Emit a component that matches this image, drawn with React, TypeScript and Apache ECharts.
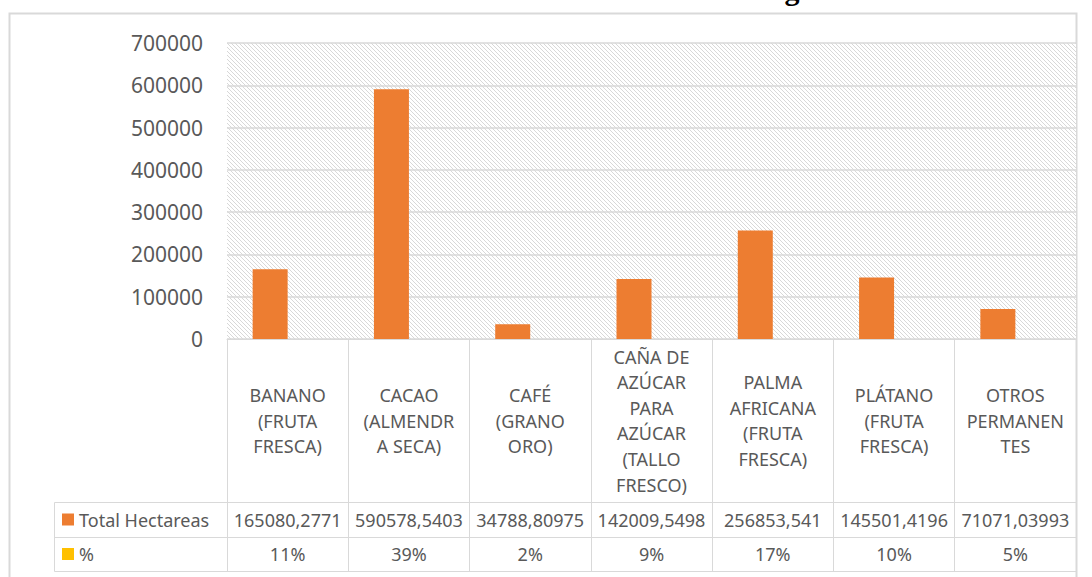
import React, { useEffect, useRef } from "react";
import * as echarts from "echarts";

const TITLE = "Gráfico 3. Distribución de la Producción Agrícola";
const categories = [
  "BANANO\n(FRUTA\nFRESCA)",
  "CACAO\n(ALMENDR\nA SECA)",
  "CAFÉ\n(GRANO\nORO)",
  "CAÑA DE\nAZÚCAR\nPARA\nAZÚCAR\n(TALLO\nFRESCO)",
  "PALMA\nAFRICANA\n(FRUTA\nFRESCA)",
  "PLÁTANO\n(FRUTA\nFRESCA)",
  "OTROS\nPERMANEN\nTES",
];
const totalHectareas = [
  165080.2771, 590578.5403, 34788.80975, 142009.5498, 256853.541, 145501.4196, 71071.03993,
];
const percentValues = [11, 39, 2, 9, 17, 10, 5];
const yTicks = { min: 0, max: 700000, interval: 100000 };
const seriesNames = ["Total Hectareas", "%"];

const FONT = "'Noto Sans', sans-serif";
const GRID_COLOR = "#d9d9d9";
const TEXT_COLOR = "#595959";

const hatchSvg =
  "<svg xmlns='http://www.w3.org/2000/svg' width='4' height='4'>" +
  "<rect width='4' height='4' fill='#ffffff'/>" +
  "<rect x='0' y='0' width='1' height='1' fill='#d8d8d8'/>" +
  "<rect x='1' y='1' width='1' height='1' fill='#d8d8d8'/>" +
  "<rect x='2' y='2' width='1' height='1' fill='#d8d8d8'/>" +
  "<rect x='3' y='3' width='1' height='1' fill='#d8d8d8'/>" +
  "</svg>";
const hatchUrl = "data:image/svg+xml;charset=utf-8," + encodeURIComponent(hatchSvg);

export default function App() {
  const ref = useRef<HTMLDivElement>(null);
  useEffect(() => {
    if (!ref.current) return;
    const chart = echarts.init(ref.current, undefined, { renderer: "svg" });
    const gridLeft = 227;
    const gridTop = 43;
    const gridRight = 16;
    const axisY = 339;
    const row1 = 502;
    const row2 = 537;
    const row3 = 571;
    const labelStyle = { fontFamily: FONT, fontSize: 18, color: TEXT_COLOR };
    chart.setOption({
      animation: false,
      backgroundColor: "#ffffff",
      grid: {
        left: gridLeft,
        right: gridRight,
        top: gridTop,
        bottom: 577 - axisY,
        show: true,
        borderWidth: 0,
        backgroundColor: {
          image: hatchUrl,
          repeat: "repeat",
          imageWidth: 4,
          imageHeight: 4,
        },
      },
      legend: [
        {
          data: [seriesNames[0]],
          left: 62,
          top: (row1 + row2) / 2 - 10,
          padding: 0,
          icon: "rect",
          itemWidth: 12,
          itemHeight: 12,
          itemGap: 4,
          textStyle: { ...labelStyle, lineHeight: 20 },
        },
        {
          data: [seriesNames[1]],
          left: 62,
          top: (row2 + row3) / 2 - 10,
          padding: 0,
          icon: "rect",
          itemWidth: 12,
          itemHeight: 12,
          textStyle: { ...labelStyle, lineHeight: 20 },
        },
      ],
      xAxis: [
        {
          type: "category",
          data: categories,
          position: "bottom",
          axisLine: { show: true, lineStyle: { color: GRID_COLOR, width: 1 } },
          axisTick: {
            show: true,
            interval: 0,
            length: row3 - axisY,
            lineStyle: { color: GRID_COLOR, width: 1 },
          },
          axisLabel: {
            interval: 0,
            ...labelStyle,
            lineHeight: 25.6,
            align: "center",
            verticalAlign: "middle",
            margin: (axisY + row1) / 2 - axisY,
          },
          splitLine: { show: false },
        },
        {
          type: "category",
          data: totalHectareas.map((v) => String(v).replace(".", ",")),
          position: "bottom",
          offset: row1 - axisY,
          axisLine: { show: true, lineStyle: { color: GRID_COLOR, width: 1 } },
          axisTick: { show: false },
          axisLabel: {
            interval: 0,
            ...labelStyle,
            verticalAlign: "middle",
            margin: (row2 - row1) / 2,
          },
        },
        {
          type: "category",
          data: percentValues.map((v) => v + "%"),
          position: "bottom",
          offset: row2 - axisY,
          axisLine: { show: true, lineStyle: { color: GRID_COLOR, width: 1 } },
          axisTick: { show: false },
          axisLabel: {
            interval: 0,
            ...labelStyle,
            verticalAlign: "middle",
            margin: (row3 - row2) / 2,
          },
        },
        {
          type: "category",
          data: categories.map(() => ""),
          position: "bottom",
          offset: row3 - axisY,
          axisLine: { show: true, lineStyle: { color: GRID_COLOR, width: 1 } },
          axisTick: { show: false },
          axisLabel: { show: false },
        },
      ],
      yAxis: {
        type: "value",
        min: yTicks.min,
        max: yTicks.max,
        interval: yTicks.interval,
        axisLine: { show: false },
        axisTick: { show: false },
        axisLabel: {
          fontFamily: FONT,
          fontSize: 21,
          color: TEXT_COLOR,
          margin: 24,
          formatter: (v: number) => String(v),
        },
        splitLine: { show: true, lineStyle: { color: GRID_COLOR, width: 1.5 } },
      },
      series: [
        {
          name: seriesNames[0],
          type: "bar",
          xAxisIndex: 0,
          data: totalHectareas,
          barWidth: 35,
          barGap: "0%",
          itemStyle: { color: "#ED7D31" },
        },
        {
          name: seriesNames[1],
          type: "bar",
          xAxisIndex: 0,
          data: percentValues.map((v) => v / 100),
          barWidth: 35,
          barGap: "0%",
          itemStyle: { color: "#FFC000" },
        },
      ],
      graphic: [
        {
          type: "rect",
          silent: true,
          z: -10,
          shape: { x: 9.5, y: 13.5, width: 1067, height: 640 },
          style: { fill: "none", stroke: GRID_COLOR, lineWidth: 2 },
        },
        {
          type: "text",
          silent: true,
          x: 556,
          y: -11,
          style: {
            text: TITLE,
            font: "bold 30px 'Liberation Serif', 'Times New Roman', serif",
            fill: "#000000",
            align: "center",
            verticalAlign: "middle",
          },
        },
        {
          type: "line",
          silent: true,
          shape: { x1: 54.5, y1: row1 + 0.5, x2: gridLeft, y2: row1 + 0.5 },
          style: { stroke: GRID_COLOR, lineWidth: 1 },
        },
        {
          type: "line",
          silent: true,
          shape: { x1: 54.5, y1: row2 + 0.5, x2: gridLeft, y2: row2 + 0.5 },
          style: { stroke: GRID_COLOR, lineWidth: 1 },
        },
        {
          type: "line",
          silent: true,
          shape: { x1: 54.5, y1: row3 + 0.5, x2: gridLeft, y2: row3 + 0.5 },
          style: { stroke: GRID_COLOR, lineWidth: 1 },
        },
        {
          type: "line",
          silent: true,
          shape: { x1: 54.5, y1: row1 + 0.5, x2: 54.5, y2: row3 + 0.5 },
          style: { stroke: GRID_COLOR, lineWidth: 1 },
        },
      ],
    });
    return () => chart.dispose();
  }, []);
  return (
    <div
      ref={ref}
      style={{ position: "absolute", left: 0, top: 0, width: 1092, height: 577 }}
    />
  );
}
